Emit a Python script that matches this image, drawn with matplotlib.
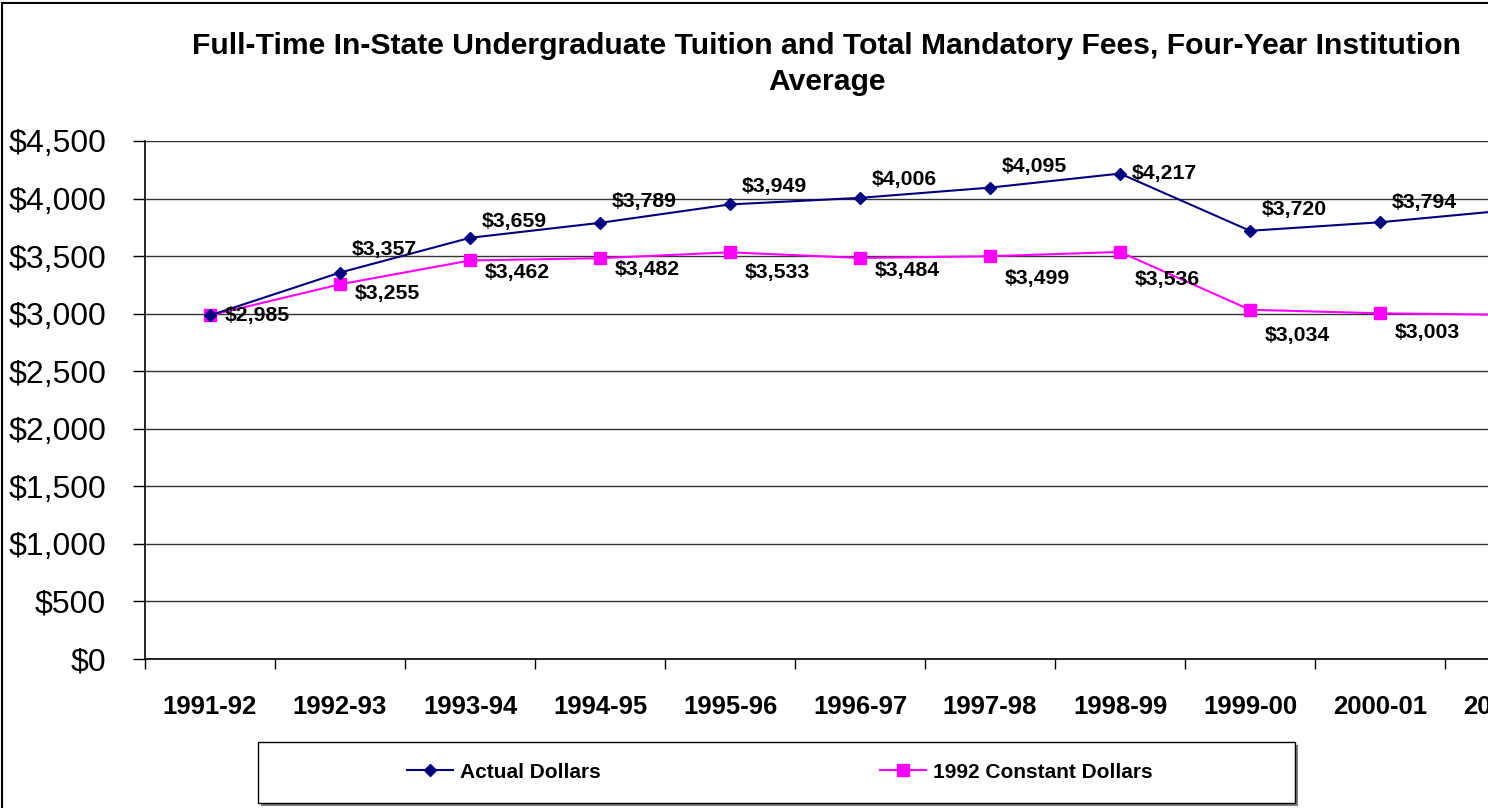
import numpy as np
import matplotlib
matplotlib.use("Agg")
import matplotlib.pyplot as plt
from matplotlib.lines import Line2D
from matplotlib.patches import Rectangle

plt.rcParams["font.family"] = ["Liberation Sans", "DejaVu Sans"]

# данные (последний год обрезан справа на исходной картинке)
years = ["1991-92", "1992-93", "1993-94", "1994-95", "1995-96", "1996-97",
         "1997-98", "1998-99", "1999-00", "2000-01", "2001-02"]
actual = [2985, 3357, 3659, 3789, 3949, 4006, 4095, 4217, 3720, 3794, 3900]
constant = [2985, 3255, 3462, 3482, 3533, 3484, 3499, 3536, 3034, 3003, 2990]

# сдвиг подписей по вертикали, px (None = без подписи)
actual_dy = [None, 23, 16, 21, 18, 18, 21, 0, 21, 20, None]
constant_dy = [0, -9, -12, -11, -20, -13, -22, -28, -26, -19, None]

W, H = 1488, 808
fig = plt.figure(figsize=(W / 100, H / 100), dpi=100)

# рамка области диаграммы (обрезана справа и снизу)
fig.patches.append(Rectangle((2 / W, -0.5), 2.0, 1.5 - 3 / H, transform=fig.transFigure,
                             fill=False, edgecolor="black", linewidth=1.5))

ax = fig.add_axes([145 / W, 1 - 659 / H, 130 * len(years) / W, 518 / H])
x = np.arange(len(years))

ax.plot(x, actual, color="#000080", lw=1.5, marker="D", ms=6.5, mec="#000080", mfc="#000080",
        label="Actual Dollars", clip_on=False, zorder=4)
ax.plot(x, constant, color="#FF00FF", lw=1.5, marker="s", ms=9, mec="#FF00FF", mfc="#FF00FF",
        label="1992 Constant Dollars", clip_on=False, zorder=3)

for i, (v, dy) in enumerate(zip(actual, actual_dy)):
    if dy is None:
        continue
    ax.annotate(f"${v:,.0f}", (i, v), xytext=(12, dy), textcoords="offset pixels",
                ha="left", va="center", fontsize=15.3, fontweight="bold", zorder=5)
for i, (v, dy) in enumerate(zip(constant, constant_dy)):
    if dy is None:
        continue
    ax.annotate(f"${v:,.0f}", (i, v), xytext=(15, dy), textcoords="offset pixels",
                ha="left", va="center", fontsize=15.3, fontweight="bold", zorder=5)

ax.set_xlim(-0.5, len(years) - 0.5)
ax.set_ylim(0, 4500)
ax.set_yticks(np.arange(0, 4501, 500))
ax.set_yticklabels([f"${v:,.0f}" for v in np.arange(0, 4501, 500)], fontsize=23)
ax.tick_params(axis="y", direction="out", length=9, width=1, pad=19)

ax.set_xticks(x)
ax.set_xticklabels(years, fontsize=18.5, fontweight="bold")
ax.tick_params(axis="x", which="major", length=0, pad=26)
ax.set_xticks(np.arange(len(years) + 1) - 0.5, minor=True)
ax.tick_params(axis="x", which="minor", direction="out", length=7, width=1)

ax.grid(axis="y", color="#333333", linewidth=1)
ax.set_axisbelow(True)
for s in ["top", "right"]:
    ax.spines[s].set_visible(False)
ax.spines["left"].set_linewidth(1.2)
ax.spines["bottom"].set_linewidth(1.2)

fig.text(827 / W, 1 - 64 / H,
         "Full-Time In-State Undergraduate Tuition and Total Mandatory Fees, Four-Year Institution\nAverage",
         ha="center", va="center", fontsize=21.7, fontweight="bold", linespacing=1.4)

# легенда: рамка с тенью + элементы
fig.patches.append(Rectangle((261 / W, 1 - 806 / H), 1037 / W, 61 / H, transform=fig.transFigure,
                             facecolor="#808080", edgecolor="none"))
fig.patches.append(Rectangle((258 / W, 1 - 803 / H), 1037 / W, 61 / H, transform=fig.transFigure,
                             facecolor="white", edgecolor="black", linewidth=1))
handles = [Line2D([], [], color="#000080", lw=1.5, marker="D", ms=6.5),
           Line2D([], [], color="#FF00FF", lw=1.5, marker="s", ms=9)]
fig.legend(handles, ["Actual Dollars", "1992 Constant Dollars"], loc="center",
           bbox_to_anchor=(780 / W, 1 - 772 / H), ncol=2, frameon=False,
           prop={"size": 15, "weight": "bold"}, handlelength=2.2, handletextpad=0.35,
           columnspacing=13.4)

fig.savefig("out.png", dpi=100)
